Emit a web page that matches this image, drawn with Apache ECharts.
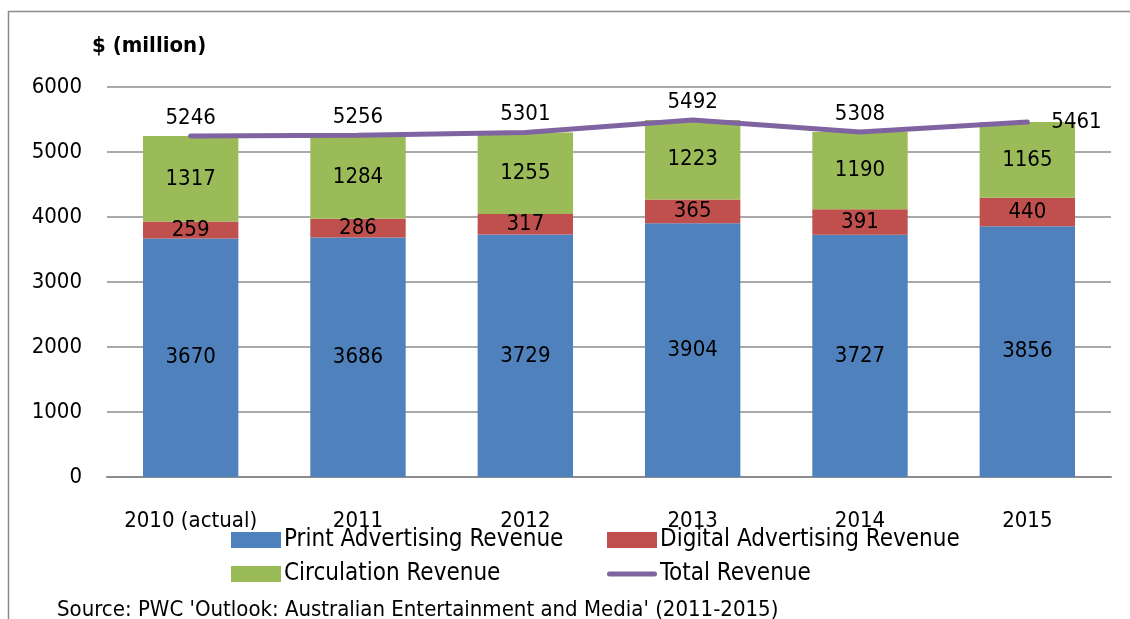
<!DOCTYPE html>
<html><head><meta charset="utf-8">
<script src="https://cdn.jsdelivr.net/npm/echarts@6/dist/echarts.min.js"></script>
<style>html,body{margin:0;padding:0;background:#fff}#c{width:1130px;height:619px}</style>
</head><body><div id="c"></div>
<script>
const categories = ['2010 (actual)','2011','2012','2013','2014','2015'];
const printAdv = [3670,3686,3729,3904,3727,3856];
const digitalAdv = [259,286,317,365,391,440];
const circulation = [1317,1284,1255,1223,1190,1165];
const totalRev = [5246,5256,5301,5492,5308,5461];
const yTicks = {min:0, max:6000, interval:1000};

const FONT = '"Liberation Sans Narrow","DejaVu Sans Condensed","Liberation Sans",sans-serif';
const chart = echarts.init(document.getElementById('c'));
const lbl = {show:true, position:'inside', color:'#000', fontSize:22, fontFamily:FONT};
chart.setOption({
  animation:false,
  textStyle:{fontFamily:FONT},
  graphic:[
    {type:'rect', shape:{x:8.5,y:11.5,width:1200,height:700}, style:{fill:'none', stroke:'#8c8c8c', lineWidth:1.5}},
    {type:'text', left:92, top:35, style:{text:'$ (million)', font:'bold 22px '+FONT, fill:'#000'}},
    {type:'text', left:57, top:599, style:{text:"Source: PWC 'Outlook: Australian Entertainment and Media' (2011-2015)", font:'22px '+FONT, fill:'#000'}}
  ],
  grid:{left:107, right:19, top:87, bottom:142},
  legend:[
    {orient:'vertical', left:226, top:523, itemWidth:50, itemHeight:16, itemGap:10,
     textStyle:{fontSize:24, color:'#000', fontFamily:FONT, padding:[0,0,0,-2]},
     data:[{name:'Print Advertising Revenue', icon:'rect'},{name:'Circulation Revenue', icon:'rect'}]},
    {orient:'vertical', left:602, top:523, itemWidth:50, itemHeight:16, itemGap:10,
     textStyle:{fontSize:24, color:'#000', fontFamily:FONT, padding:[0,0,0,-2]},
     data:[{name:'Digital Advertising Revenue', icon:'rect'},
           {name:'Total Revenue', icon:'path://M2.5,0 L47.5,0 A2.5,2.5 0 0 1 47.5,5 L2.5,5 A2.5,2.5 0 0 1 2.5,0 Z',
            itemStyle:{color:'#8064A2', opacity:1}}]}
  ],
  xAxis:{type:'category', data:categories,
    axisLine:{lineStyle:{color:'#8c8c8c', width:2}}, axisTick:{show:false},
    axisLabel:{color:'#000', fontSize:22, margin:33, fontFamily:FONT, interval:0}},
  yAxis:{type:'value', min:yTicks.min, max:yTicks.max, interval:yTicks.interval,
    axisLine:{show:false}, axisTick:{show:false},
    axisLabel:{color:'#000', fontSize:22, margin:25, fontFamily:FONT, formatter:v=>String(v)},
    splitLine:{lineStyle:{color:'#8c8c8c', width:1.5}}},
  series:[
    {name:'Print Advertising Revenue', type:'bar', stack:'s', data:printAdv, barCategoryGap:'43%',
     itemStyle:{color:'#4F81BD'}, label:lbl},
    {name:'Digital Advertising Revenue', type:'bar', stack:'s', data:digitalAdv,
     itemStyle:{color:'#C0504D'}, label:lbl},
    {name:'Circulation Revenue', type:'bar', stack:'s', data:circulation,
     itemStyle:{color:'#9BBB59'}, label:lbl},
    {name:'Total Revenue', type:'line', data:totalRev.map((v,i)=> i===totalRev.length-1 ?
        {value:v, label:{position:'right', distance:22}} : v),
     symbol:'circle', symbolSize:4, showSymbol:true,
     lineStyle:{color:'#8064A2', width:5, cap:'round'}, itemStyle:{color:'#8064A2'},
     z:5,
     label:{show:true, position:'top', distance:5, color:'#000', fontSize:22, fontFamily:FONT}}
  ]
});
</script></body></html>
